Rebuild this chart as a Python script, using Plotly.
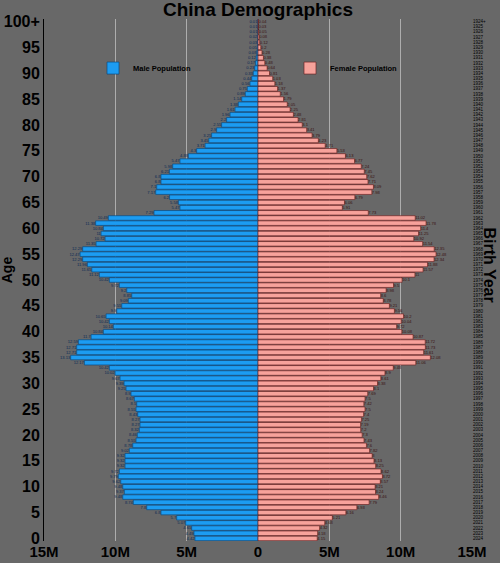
import plotly.graph_objects as go

# population by single year of age, in millions (age 100 = 100+)
ages = list(range(0, 101))
age_ticks = list(range(0, 101, 5))
age_tick_labels = [str(a) for a in range(0, 100, 5)] + ['100+']
birth_years = [str(2024 - a) for a in range(0, 100)] + ['1924+']

male = [
    4.42, 4.49, 4.65, 5.07, 5.70, 6.80, 7.80, 8.74, 9.48, 9.37,
    9.48, 9.62, 9.79, 9.72, 9.32, 9.32, 9.32, 9.02, 8.78, 8.55,
    8.46, 8.32, 8.27, 8.27, 8.43, 8.55, 8.50, 8.67, 8.90, 9.25,
    9.39, 9.67, 10.02, 10.42, 12.17, 13.13, 12.71, 12.71, 12.59, 11.70,
    10.84, 10.14, 10.42, 10.65, 9.90, 9.55, 9.09, 8.85, 9.20, 9.72,
    10.42, 11.12, 11.65, 11.96, 12.29, 12.47, 12.29, 11.35, 10.72, 11.00,
    10.84, 11.38, 10.49, 7.29, 5.47, 5.58, 6.20, 7.17, 7.10, 6.80,
    6.80, 6.21, 5.98, 5.47, 4.88, 4.30, 3.71, 3.45, 3.25, 2.90,
    2.55, 2.20, 1.96, 1.61, 1.38, 1.14, 0.89, 0.75, 0.56, 0.44,
    0.33, 0.23, 0.17, 0.12, 0.08, 0.05, 0.03, 0.02, 0.01, 0.01,
    0.01,
]
female = [
    4.15, 4.18, 4.32, 4.68, 5.21, 6.16, 6.93, 7.79, 8.46, 8.24,
    8.21, 8.57, 8.72, 8.62, 8.25, 8.13, 8.00, 7.82, 7.60, 7.43,
    7.30, 7.20, 7.19, 7.25, 7.40, 7.50, 7.42, 7.50, 7.69, 8.10,
    8.38, 8.61, 8.90, 9.48, 11.06, 12.08, 11.61, 11.73, 11.72, 10.87,
    10.08, 9.72, 10.04, 10.20, 9.56, 9.21, 8.78, 8.60, 8.98, 9.50,
    10.10, 11.00, 11.57, 11.88, 12.34, 12.48, 12.35, 11.54, 10.92, 11.25,
    11.40, 11.78, 11.02, 7.73, 5.91, 6.06, 6.79, 7.98, 8.09, 7.71,
    7.62, 7.45, 7.24, 6.77, 6.13, 5.53, 4.71, 4.23, 3.79, 3.41,
    3.10, 2.81, 2.48, 2.25, 2.05, 1.79, 1.56, 1.37, 1.18, 1.03,
    0.81, 0.64, 0.48, 0.38, 0.28, 0.20, 0.12, 0.08, 0.05, 0.03,
    0.04,
]

x_ticks = [-15, -10, -5, 0, 5, 10, 15]
x_tick_labels = ['15M', '10M', '5M', '0', '5M', '10M', '15M']

fig = go.Figure()
fig.add_trace(go.Bar(
    y=ages, x=[-v for v in male], orientation='h',
    name='Male Population',
    marker=dict(color='#1c9cf2', line=dict(color='#0b4a80', width=0.7)),
    text=[f'{v:g}' for v in male],
    textposition='auto', insidetextanchor='end',
    textfont=dict(size=4.5, color='#0a2a55'),
))
fig.add_trace(go.Bar(
    y=ages, x=female, orientation='h',
    name='Female Population',
    marker=dict(color='#f7a29b', line=dict(color='#6e2626', width=0.7)),
    text=[f'{v:g}' for v in female],
    textposition='auto', insidetextanchor='end',
    textfont=dict(size=4.5, color='#3a1010'),
))

fig.update_layout(
    width=500, height=563,
    paper_bgcolor='#686868', plot_bgcolor='#686868',
    barmode='relative', bargap=0.12,
    margin=dict(l=44, r=28, t=19, b=22, autoexpand=False),
    font=dict(family='Arial', color='black'),
    title=dict(text='China Demographics', x=0.516, xanchor='center',
               y=1, yref='container', yanchor='top', pad=dict(t=3),
               font=dict(size=19, weight='bold')),
    legend=dict(orientation='h', xref='container', x=0.186, xanchor='left',
                y=0.906, yanchor='middle',
                entrywidth=152, entrywidthmode='pixels',
                bgcolor='rgba(0,0,0,0)', font=dict(size=7.5, weight='bold')),
    xaxis=dict(range=[-15, 15], tickvals=x_ticks, ticktext=x_tick_labels,
               showgrid=True, gridcolor='#adadad', gridwidth=0.8,
               zeroline=True, zerolinecolor='black', zerolinewidth=1,
               tickfont=dict(size=15, weight='bold'), ticks='', fixedrange=True),
    yaxis=dict(range=[-0.5, 100.5], tickvals=age_ticks, ticktext=age_tick_labels,
               showgrid=False, zeroline=False, showline=True, linecolor='black',
               linewidth=1, tickfont=dict(size=16, weight='bold'), ticks=''),
    yaxis2=dict(range=[-0.5, 100.5], overlaying='y', side='right',
                tickvals=ages, ticktext=birth_years, showgrid=False,
                zeroline=False, tickfont=dict(size=4.5), ticks=''),
    annotations=[
        dict(text='Age', x=-0.086, y=0.519, xref='paper', yref='paper',
             xanchor='center', yanchor='middle', showarrow=False, textangle=-90,
             font=dict(size=14, weight='bold')),
        dict(text='Birth Year', x=1.042, y=0.528, xref='paper', yref='paper',
             xanchor='center', yanchor='middle', showarrow=False, textangle=90,
             font=dict(size=16, weight='bold')),
    ],
)
# invisible trace so the right-hand birth-year axis is drawn
fig.add_trace(go.Scatter(x=[0], y=[0], yaxis='y2', mode='markers',
                         marker=dict(opacity=0), showlegend=False, hoverinfo='skip'))

fig.write_html('out.html', config={'displayModeBar': False},
               post_script="document.body.style.margin='0px';document.body.style.overflow='hidden';")
